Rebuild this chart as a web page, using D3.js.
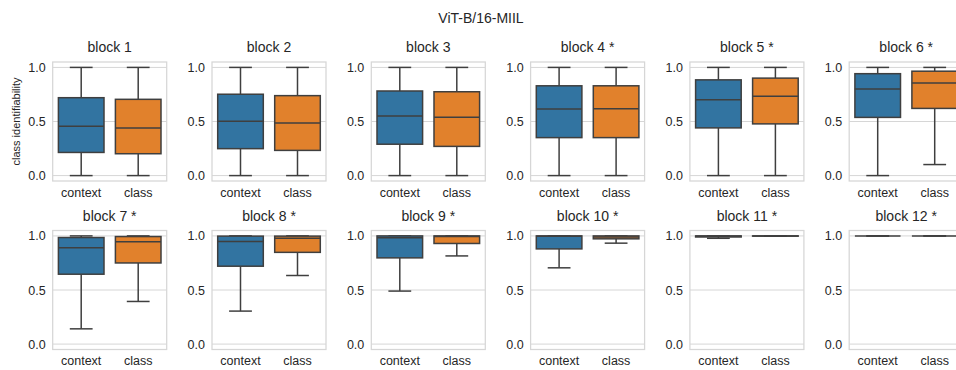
<!DOCTYPE html>
<html>
<head>
<meta charset="utf-8">
<script src="https://cdn.jsdelivr.net/npm/d3@7"></script>
<style>
  body { margin: 0; background: #fff; }
  svg { font-family: "Liberation Sans", Arial, sans-serif; }
</style>
</head>
<body>
<svg id="chart" width="956" height="370"></svg>
<script>
// panel titles, categories and tick values
const blocks = ["block 1", "block 2", "block 3", "block 4 *", "block 5 *", "block 6 *",
                "block 7 *", "block 8 *", "block 9 *", "block 10 *", "block 11 *", "block 12 *"];
const groups = ["context", "class"];
const yTicks = [0, 0.5, 1.0];

// box stats per block: [lower whisker, q1, median, q3, upper whisker]
const contextStats = [
    [0, 0.214, 0.457, 0.72, 1],
    [0, 0.249, 0.503, 0.752, 1],
    [0, 0.29, 0.55, 0.782, 1],
    [0, 0.351, 0.615, 0.83, 1],
    [0, 0.441, 0.702, 0.885, 1],
    [0, 0.538, 0.80, 0.942, 1],
    [0.141, 0.646, 0.89, 0.985, 1],
    [0.305, 0.72, 0.948, 0.998, 1],
    [0.49, 0.797, 0.982, 1, 1],
    [0.705, 0.88, 0.998, 1, 1],
    [0.978, 0.99, 0.997, 1, 1],
    [1, 1, 1, 1, 1]
];
const classStats = [
    [0, 0.202, 0.44, 0.705, 1],
    [0, 0.233, 0.487, 0.739, 1],
    [0, 0.27, 0.54, 0.775, 1],
    [0, 0.351, 0.618, 0.83, 1],
    [0, 0.478, 0.733, 0.901, 1],
    [0.102, 0.621, 0.855, 0.965, 1],
    [0.394, 0.75, 0.945, 0.994, 1],
    [0.634, 0.848, 0.979, 0.998, 1],
    [0.815, 0.93, 0.995, 1, 1],
    [0.933, 0.973, 0.99, 1, 1],
    [0.997, 0.998, 0.999, 1, 1],
    [1, 1, 1, 1, 1]
];

const colorScale = d3.scaleOrdinal().domain(groups).range(["#3274a1", "#e1812c"]);
const edge = "#3f3f3f";
const textColor = "#262626";
const gridColor = "#d6d6d6";

let panelW = 114, panelH = 119,
    left0 = 52.7, stepX = 159.3,
    rowTops = [62, 230.5];

let svg = d3.select("#chart");

svg.append("text")
    .attr("x", 481)
    .attr("y", 23)
    .attr("text-anchor", "middle")
    .style("font-size", "14px")
    .style("fill", textColor)
    .text("ViT-B/16-MIIL");

let xScale = d3.scaleBand().domain(groups).range([0, panelW]).padding(0);
let yScale = d3.scaleLinear().domain([-0.05, 1.05]).range([panelH, 0]);
let boxW = xScale.bandwidth() * 0.8;

blocks.forEach(function (name, i) {
    let col = i % 6, row = Math.floor(i / 6);
    let g = svg.append("g")
        .attr("transform", "translate(" + (left0 + col * stepX) + "," + rowTops[row] + ")");

    // grid
    g.selectAll("line.grid")
        .data(yTicks)
        .join("line")
        .attr("class", "grid")
        .attr("x1", 0).attr("x2", panelW)
        .attr("y1", d => yScale(d)).attr("y2", d => yScale(d))
        .attr("stroke", gridColor)
        .attr("stroke-width", 1);

    // axes
    let ya = g.append("g")
        .call(d3.axisLeft(yScale).tickValues(yTicks).tickFormat(d3.format(".1f")).tickSize(0).tickPadding(7));
    let xa = g.append("g")
        .attr("transform", "translate(0," + panelH + ")")
        .call(d3.axisBottom(xScale).tickSize(0).tickPadding(7));
    [ya, xa].forEach(function (a) {
        a.select(".domain").remove();
        a.selectAll("text")
            .style("font-size", "12.5px")
            .style("font-family", "Liberation Sans, Arial, sans-serif")
            .attr("fill", textColor);
    });

    // frame
    g.append("rect")
        .attr("x", 0).attr("y", 0)
        .attr("width", panelW).attr("height", panelH)
        .attr("fill", "none")
        .attr("stroke", gridColor)
        .attr("stroke-width", 1.25);

    g.append("text")
        .attr("x", panelW / 2)
        .attr("y", -10)
        .attr("text-anchor", "middle")
        .style("font-size", "14px")
        .style("fill", textColor)
        .text(name);

    let boxes = [
        { group: "context", s: contextStats[i] },
        { group: "class", s: classStats[i] }
    ];

    let bx = g.selectAll("g.box")
        .data(boxes)
        .join("g")
        .attr("class", "box")
        .attr("transform", d => "translate(" + (xScale(d.group) + xScale.bandwidth() / 2) + ",0)");

    // whiskers
    bx.append("line")
        .attr("x1", 0).attr("x2", 0)
        .attr("y1", d => yScale(d.s[0])).attr("y2", d => yScale(d.s[1]))
        .attr("stroke", edge).attr("stroke-width", 1.5);
    bx.append("line")
        .attr("x1", 0).attr("x2", 0)
        .attr("y1", d => yScale(d.s[3])).attr("y2", d => yScale(d.s[4]))
        .attr("stroke", edge).attr("stroke-width", 1.5);
    // caps
    bx.append("line")
        .attr("x1", -boxW / 4).attr("x2", boxW / 4)
        .attr("y1", d => yScale(d.s[0])).attr("y2", d => yScale(d.s[0]))
        .attr("stroke", edge).attr("stroke-width", 1.5);
    bx.append("line")
        .attr("x1", -boxW / 4).attr("x2", boxW / 4)
        .attr("y1", d => yScale(d.s[4])).attr("y2", d => yScale(d.s[4]))
        .attr("stroke", edge).attr("stroke-width", 1.5);
    // box
    bx.append("rect")
        .attr("x", -boxW / 2)
        .attr("y", d => yScale(d.s[3]))
        .attr("width", boxW)
        .attr("height", d => yScale(d.s[1]) - yScale(d.s[3]))
        .attr("fill", d => colorScale(d.group))
        .attr("stroke", edge).attr("stroke-width", 1.5);
    // median
    bx.append("line")
        .attr("x1", -boxW / 2).attr("x2", boxW / 2)
        .attr("y1", d => yScale(d.s[2])).attr("y2", d => yScale(d.s[2]))
        .attr("stroke", edge).attr("stroke-width", 1.5);
});

svg.append("text")
    .attr("transform", "translate(16," + (rowTops[0] + panelH / 2) + ") rotate(-90)")
    .attr("text-anchor", "middle")
    .attr("dy", "0.35em")
    .style("font-size", "11px")
    .style("fill", textColor)
    .text("class identifiability");
</script>
</body>
</html>
